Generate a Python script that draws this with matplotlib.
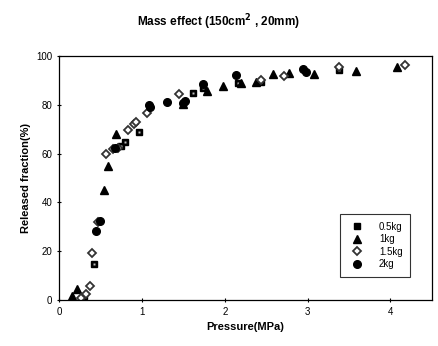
import matplotlib
matplotlib.use("Agg")
import matplotlib.pyplot as plt

plt.rcParams['font.family'] = ['Liberation Sans', 'DejaVu Sans']

# 0.5 kg (squares)
p_05 = [0.30, 0.42, 0.75, 0.80, 0.96, 1.62, 1.74, 2.16, 2.44, 3.38]
f_05 = [1.5, 14.6, 63.0, 64.7, 68.7, 85.0, 87.0, 88.8, 89.4, 94.2]
# 1 kg (triangles)
p_1 = [0.15, 0.22, 0.54, 0.59, 0.69, 1.50, 1.79, 1.98, 2.20, 2.38, 2.58, 2.78, 3.08, 3.58, 4.08]
f_1 = [1.8, 4.3, 45.2, 54.9, 68.2, 80.5, 85.7, 87.7, 88.8, 89.4, 92.8, 93.1, 92.6, 93.9, 95.5]
# 1.5 kg (diamonds)
p_15 = [0.27, 0.32, 0.37, 0.40, 0.47, 0.56, 0.65, 0.71, 0.83, 0.90, 0.93, 1.06, 1.45, 2.44, 2.71, 3.38, 4.18]
f_15 = [0.9, 2.3, 5.7, 19.4, 32.1, 59.9, 62.1, 62.4, 69.6, 72.0, 73.0, 76.6, 84.3, 90.3, 91.9, 95.5, 96.5]
# 2 kg (circles)
p_2 = [0.45, 0.49, 0.68, 1.08, 1.10, 1.30, 1.50, 1.52, 1.74, 2.13, 2.95, 2.98]
f_2 = [28.2, 32.5, 62.4, 80.0, 79.0, 81.0, 80.7, 81.6, 88.6, 92.2, 94.6, 93.5]

labels = ['0.5kg', '1kg', '1.5kg', '2kg']

fig = plt.figure(figsize=(4.38, 3.46), dpi=100)
ax = fig.add_axes([0.135, 0.133, 0.851, 0.705])

ms = 5
ax.plot(p_05, f_05, ls='none', marker='s', ms=ms, mfc='black', mec='black', label=labels[0])
ax.plot(p_05, f_05, ls='none', marker='s', ms=1.8, mfc='#bbbbbb', mec='none')
ax.plot(p_1, f_1, ls='none', marker='^', ms=ms + 0.5, mfc='black', mec='black', label=labels[1])
ax.plot(p_15, f_15, ls='none', marker='D', ms=ms - 0.5, mfc='white', mec='#333333', mew=1.3, label=labels[2])
ax.plot(p_2, f_2, ls='none', marker='o', ms=ms + 0.5, mfc='black', mec='black', label=labels[3])

ax.set_xlim(0, 4.5)
ax.set_ylim(0, 100)
ax.set_xticks([0, 1, 2, 3, 4])
ax.set_yticks([0, 20, 40, 60, 80, 100])
ax.tick_params(labelsize=7, length=3, width=0.8, direction='inout')
for s in ax.spines.values():
    s.set_linewidth(0.9)

ax.set_xlabel('Pressure(MPa)', fontsize=8, fontweight='bold')
ax.set_ylabel('Released fraction(%)', fontsize=8, fontweight='bold')
fig.suptitle('Mass effect (150cm$^{\\mathbf{2}}$ , 20mm)', fontsize=8.5, fontweight='bold', y=0.965)

leg = ax.legend(loc='lower right', bbox_to_anchor=(0.955, 0.075), fontsize=7, frameon=True,
                fancybox=False, edgecolor='black', borderpad=0.8, handletextpad=1.2,
                labelspacing=0.25)
leg.get_frame().set_linewidth(0.8)

fig.savefig('out.png', dpi=100)
